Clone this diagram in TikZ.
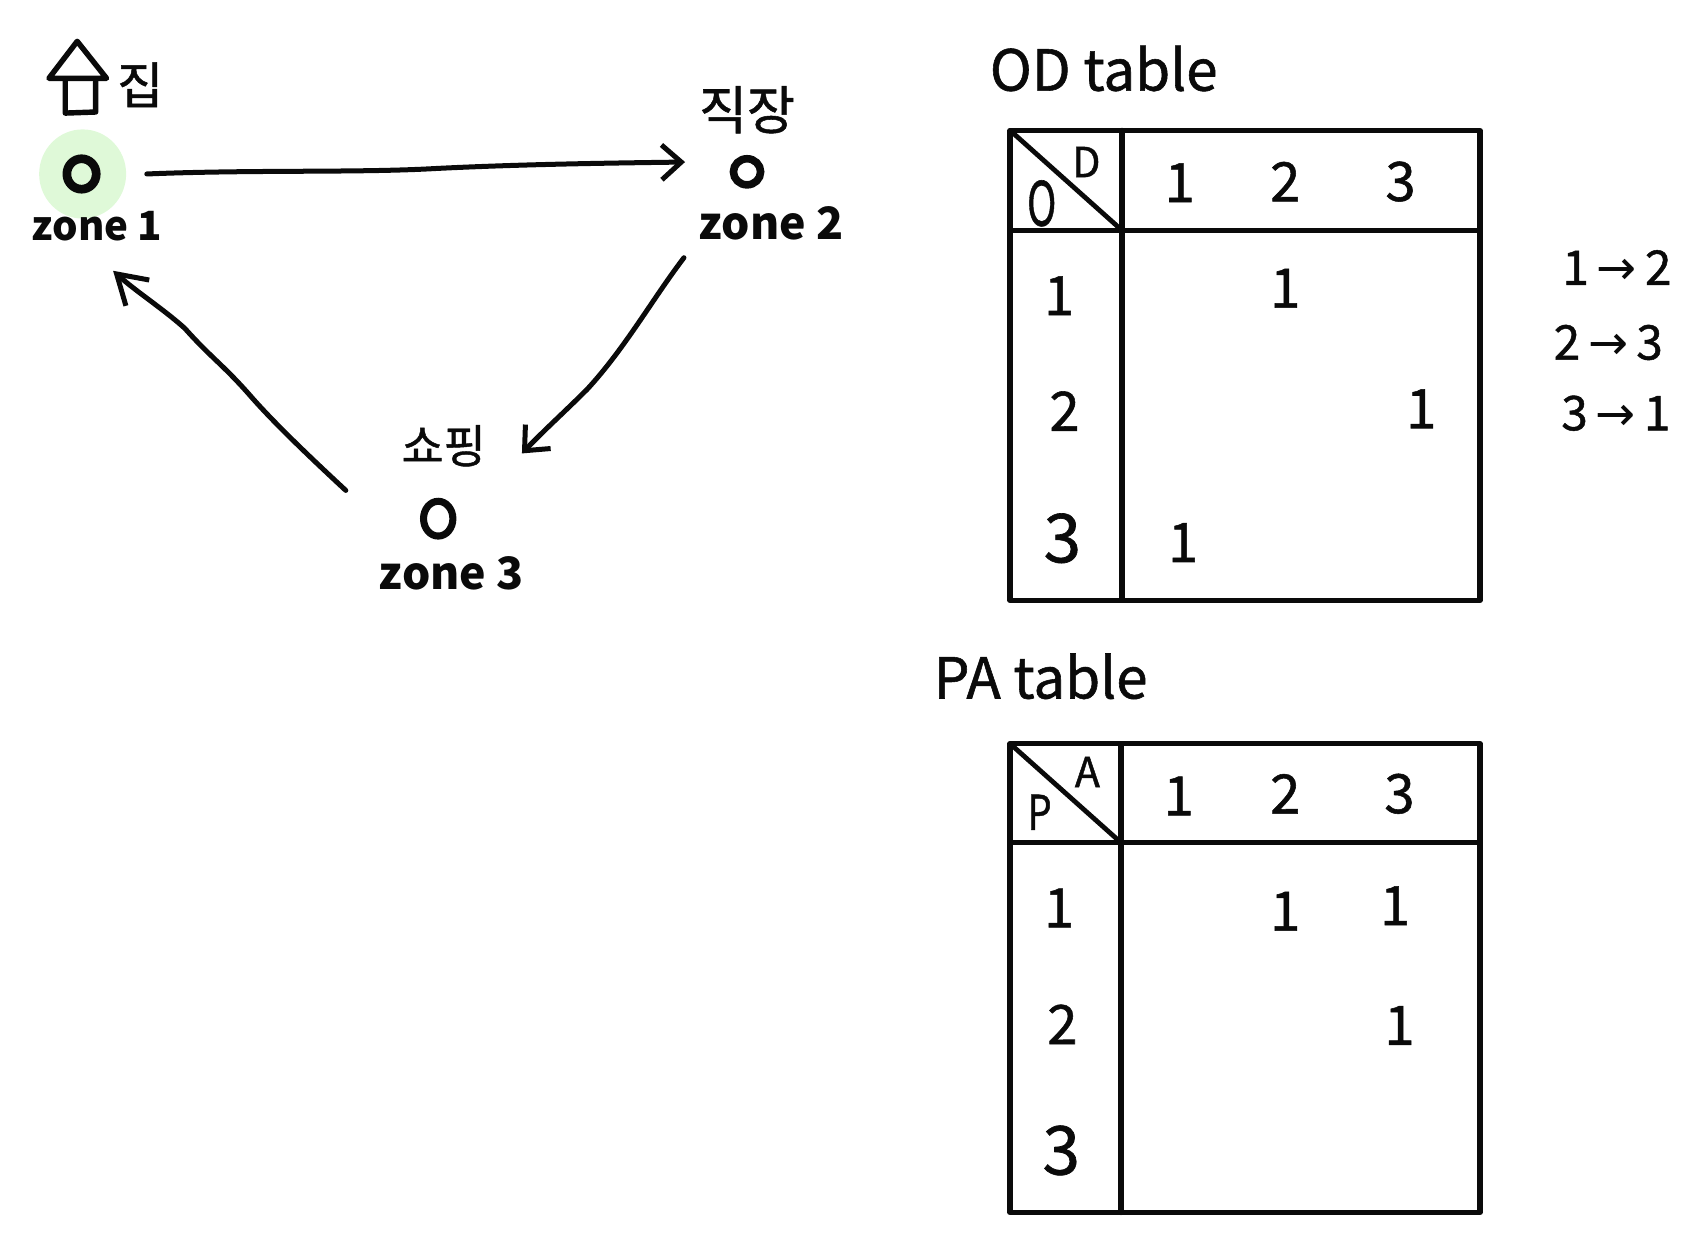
\documentclass[tikz,border=0pt]{standalone}
\usepackage{fontspec}
\setmainfont{Noto Sans CJK KR}
\newfontfamily\medf{Noto Sans CJK KR}[FakeBold=1]
\newfontfamily\arrowfont{DejaVu Sans}
\usetikzlibrary{arrows.meta,shapes.geometric}
\definecolor{ink}{HTML}{0A0A0A}
\definecolor{glow}{HTML}{DFF9D8}
\newcommand{\fsz}[1]{\fontsize{#1}{#1}\selectfont}
\tikzset{
  cell/.style={inner sep=0pt,text=ink,font=\medf\fsz{50}},
  bigcell/.style={inner sep=0pt,text=ink,font=\medf\fsz{62}},
  corner/.style={inner sep=0pt,text=ink,font=\medf\fsz{38}},
  zonelbl/.style={inner sep=0pt,text=ink,font=\bfseries\fsz{41}},
  title/.style={inner sep=0pt,text=ink,font=\medf\fsz{52}},
  kor/.style={inner sep=0pt,text=ink,font=\medf\fsz{#1}},
  side/.style={inner sep=0pt,text=ink,font=\medf\fsz{44}},
  zonept/.style={draw=ink,ellipse,inner sep=0pt},
  grid/.style={draw=ink,line width=5pt,line join=round,line cap=round},
  conn/.style={draw=ink,line width=4.6pt,line cap=round,-{Straight Barb[length=#1,width=32pt,line width=4.6pt]}},
  conn/.default=18pt,
  hand/.style={draw=ink,line width=5pt,line cap=round,line join=round},
}
\begin{document}
\begin{tikzpicture}[x=1pt,y=-1pt]
\useasboundingbox (0,0) rectangle (1568,1140);
% left part
\fill[glow] (76,160) ellipse (40 and 41);
\draw[hand] (45,72) -- (71,38) -- (98,72) -- cycle;
\draw[hand] (60,75) -- (60,104) -- (88,103) -- (88,75);
\node[kor=46] (homet) at (129,78) {집};
\node[kor=48] (workt) at (687,101) {직장};
\node[kor=42] (shopt) at (408,410) {쇼핑};
\node[zonept,line width=8pt,minimum width=27pt,minimum height=28pt] (z1) at (75,160) {};
\node[zonept,line width=7pt,minimum width=25pt,minimum height=24pt] (z2) at (687,158) {};
\node[zonept,line width=6.5pt,minimum width=27pt,minimum height=32pt] (z3) at (403,477) {};
\node[zonelbl,font=\bfseries\fsz{37}] (z1l) at (89,208) {zone 1};
\node[zonelbl] (z2l) at (709,205) {zone 2};
\node[zonelbl] (z3l) at (415,527) {zone 3};
\coordinate (a12) at (135,160);
\coordinate (b12) at (630,149);
\coordinate (a23) at (629,237);
\coordinate (b23) at (480,417);
\coordinate (a31) at (318,451);
\coordinate (b31) at (104,249);
\draw[conn] (a12) .. controls (230,156) and (330,159) .. (400,155) .. controls (480,151) and (560,150) .. (b12);
\draw[conn] (a23) .. controls (600,275) and (575,320) .. (540,358) .. controls (520,378) and (500,396) .. (b23);
\draw[conn=26pt] (a31) .. controls (290,425) and (255,392) .. (232,366) .. controls (205,335) and (195,330) .. (170,302) .. controls (150,284) and (125,268) .. (b31);
% OD table
\node[title] (odt) at (1015,63) {OD table};
\node[grid,rectangle,minimum width=432pt,minimum height=432pt,anchor=north west,inner sep=0pt,outer sep=0pt] (od) at (929,120) {};
\coordinate (odh1) at (929,212); \coordinate (odh2) at (1361,212);
\coordinate (odv1) at (1032,120); \coordinate (odv2) at (1032,552);
\coordinate (odd) at (1032,212);
\draw[grid] (odh1) -- (odh2);
\draw[grid] (odv1) -- (odv2);
\draw[grid,line width=4.4pt] (od.north west) -- (odd);
\node[corner] (odD) at (999,149) {D};
\node[corner,font=\medf\fsz{56},xscale=0.65] (odO) at (958,187) {O};
\node[cell] (odc1) at (1085,168) {1};
\node[cell] (odc2) at (1182,167) {2};
\node[cell] (odc3) at (1288,167) {3};
\node[cell] (odr1) at (974,272) {1};
\node[cell] (odr2) at (979,378) {2};
\node[bigcell] (odr3) at (977,495) {3};
\node[cell] (od12) at (1182,265) {1};
\node[cell] (od23) at (1307,376) {1};
\node[cell] (od31) at (1088,499) {1};
% side list
\node[side] (s1) at (1487,246) {1\,{\arrowfont→}\,2};
\node[side] (s2) at (1479,315) {2\,{\arrowfont→}\,3};
\node[side] (s3) at (1486,380) {3\,{\arrowfont→}\,1};
% PA table
\node[title] (pat) at (957,622) {PA table};
\node[grid,rectangle,minimum width=432pt,minimum height=431pt,anchor=north west,inner sep=0pt,outer sep=0pt] (pa) at (929,684) {};
\coordinate (pah1) at (929,775); \coordinate (pah2) at (1361,775);
\coordinate (pav1) at (1031,684); \coordinate (pav2) at (1031,1115);
\coordinate (pad) at (1031,775);
\draw[grid] (pah1) -- (pah2);
\draw[grid] (pav1) -- (pav2);
\draw[grid,line width=4.4pt] (pa.north west) -- (pad);
\node[corner] (paA) at (1000,710) {A};
\node[corner,font=\medf\fsz{44},xscale=0.8] (paP) at (956,747) {P};
\node[cell] (pac1) at (1084,732) {1};
\node[cell] (pac2) at (1182,730) {2};
\node[cell] (pac3) at (1287,730) {3};
\node[cell] (par1) at (974,835) {1};
\node[cell] (par2) at (977,942) {2};
\node[bigcell] (par3) at (976,1058) {3};
\node[cell] (pa12) at (1182,838) {1};
\node[cell] (pa13) at (1283,833) {1};
\node[cell] (pa23) at (1287,943) {1};
\end{tikzpicture}
\end{document}
